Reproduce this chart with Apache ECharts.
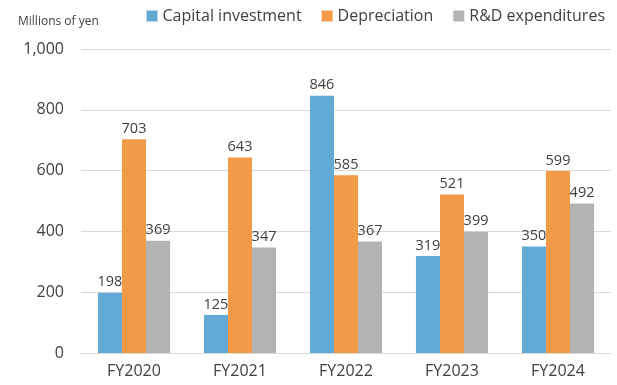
<!DOCTYPE html>
<html>
<head>
<meta charset="utf-8">
<script src="https://cdn.jsdelivr.net/npm/echarts@6/dist/echarts.min.js"></script>
<style>
  html, body { margin: 0; padding: 0; background: #ffffff; }
  #chart { width: 617px; height: 385px; }
</style>
</head>
<body>
<div id="chart"></div>
<script>
// Fiscal years and amounts (millions of yen)
const categories = ['FY2020', 'FY2021', 'FY2022', 'FY2023', 'FY2024'];
const capitalInvestment = [198, 125, 846, 319, 350];
const depreciation = [703, 643, 585, 521, 599];
const rdExpenditures = [369, 347, 367, 399, 492];
const seriesNames = ['Capital investment', 'Depreciation', 'R&D expenditures'];
const colors = ['#62a9d6', '#f39a48', '#b3b3b3'];

const fontFamily = '"Open Sans", "Noto Sans", sans-serif';

const chart = echarts.init(document.getElementById('chart'), null, { renderer: 'canvas' });

function barSeries(name, data, color) {
  return {
    name: name,
    type: 'bar',
    data: data,
    barGap: '0%',
    barCategoryGap: '32%',
    itemStyle: { color: color },
    label: {
      show: true,
      position: 'top',
      distance: 3,
      color: '#404040',
      fontSize: 14.5,
      fontFamily: fontFamily
    }
  };
}

chart.setOption({
  animation: false,
  color: colors,
  textStyle: { fontFamily: fontFamily },
  legend: {
    top: 3,
    right: 7,
    itemWidth: 11,
    itemHeight: 11,
    itemGap: 20,
    icon: 'rect',
    textStyle: { fontSize: 16, color: '#404040', fontFamily: fontFamily },
    data: seriesNames
  },
  graphic: [{
    type: 'text',
    left: 18,
    top: 16,
    style: {
      text: 'Millions of yen',
      fontSize: 12,
      fill: '#404040',
      fontFamily: fontFamily
    }
  }],
  grid: { left: 81, right: 6, top: 49, bottom: 32 },
  xAxis: {
    type: 'category',
    data: categories,
    axisTick: { show: false },
    axisLine: { lineStyle: { color: '#d9d9d9', width: 1 } },
    axisLabel: { fontSize: 16, color: '#404040', margin: 10, fontFamily: fontFamily }
  },
  yAxis: {
    type: 'value',
    min: 0,
    max: 1000,
    interval: 200,
    axisLine: { show: false },
    axisTick: { show: false },
    splitLine: { lineStyle: { color: '#d9d9d9', width: 1 } },
    axisLabel: {
      fontSize: 16,
      color: '#404040',
      margin: 17,
      fontFamily: fontFamily,
      formatter: v => v.toLocaleString('en-US')
    }
  },
  series: [
    barSeries(seriesNames[0], capitalInvestment, colors[0]),
    barSeries(seriesNames[1], depreciation, colors[1]),
    barSeries(seriesNames[2], rdExpenditures, colors[2])
  ]
});
</script>
</body>
</html>
